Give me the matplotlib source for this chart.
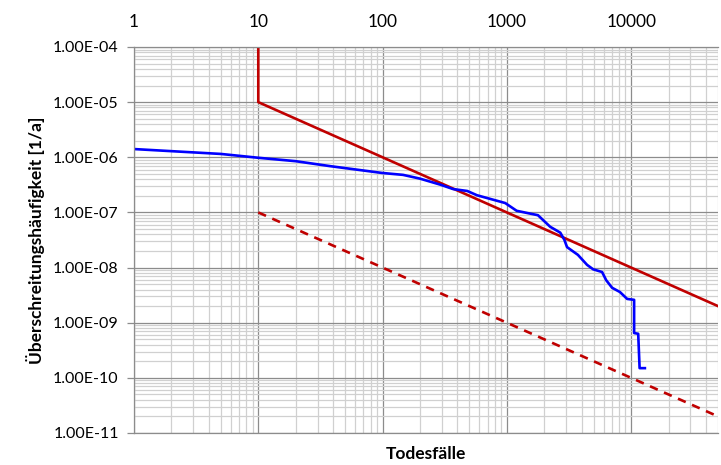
import numpy as np
import matplotlib.pyplot as plt
from matplotlib.ticker import LogLocator, NullFormatter, FuncFormatter

# Daten
blue_x = [1, 5, 10, 20, 38, 99, 146, 200, 290, 370, 480, 575, 970, 1200,
          1780, 2230, 2690, 2900, 3050, 3730, 4420, 4950, 5840, 6300, 7030,
          8130, 9290, 10570, 10570, 11400, 11700, 12900]
blue_y = [1.41e-6, 1.15e-6, 9.8e-7, 8.5e-7, 6.9e-7, 5.2e-7, 4.8e-7, 4.1e-7,
          3.2e-7, 2.65e-7, 2.45e-7, 2.05e-7, 1.48e-7, 1.07e-7, 8.9e-8, 5.5e-8,
          4.3e-8, 3.2e-8, 2.35e-8, 1.7e-8, 1.12e-8, 9.3e-9, 8.3e-9, 5.9e-9,
          4.3e-9, 3.6e-9, 2.7e-9, 2.6e-9, 6.5e-10, 6.3e-10, 1.5e-10, 1.5e-10]

red_x = [10, 10, 50000]
red_y = [1e-4, 1e-5, 2e-9]

dash_x = [10, 50000]
dash_y = [1e-7, 2e-11]

x_ticks = [1, 10, 100, 1000, 10000]
y_ticks = [1e-11, 1e-10, 1e-9, 1e-8, 1e-7, 1e-6, 1e-5, 1e-4]

plt.rcParams['font.family'] = ['Lato', 'DejaVu Sans']

fig = plt.figure(figsize=(7.21, 4.65), dpi=100)
ax = fig.add_axes([134 / 721, 1 - 433 / 465, (718 - 134) / 721, (433 - 47) / 465])

ax.set_xscale('log')
ax.set_yscale('log')
ax.set_xlim(1, 50000)
ax.set_ylim(1e-11, 1e-4)

# Gitter
ax.xaxis.set_major_locator(LogLocator(base=10, numticks=20))
ax.xaxis.set_minor_locator(LogLocator(base=10, subs=range(2, 10), numticks=20))
ax.yaxis.set_major_locator(LogLocator(base=10, numticks=20))
ax.yaxis.set_minor_locator(LogLocator(base=10, subs=range(2, 10), numticks=20))
ax.xaxis.set_minor_formatter(NullFormatter())
ax.yaxis.set_minor_formatter(NullFormatter())
ax.grid(True, which='minor', color='#d0d0d0', lw=0.9)
ax.grid(True, which='major', color='#8c8c8c', lw=0.9)
ax.set_axisbelow(True)

ax.plot(dash_x, dash_y, color='#c00000', lw=1.9, dashes=(3.2, 2.6))
ax.plot(red_x, red_y, color='#c00000', lw=1.9)
ax.plot(blue_x, blue_y, color='#0000ff', lw=1.9)

# Achsen
ax.xaxis.tick_top()
ax.set_xticks(x_ticks)
ax.set_xticklabels([str(t) for t in x_ticks])
ax.tick_params(axis='x', which='both', length=0, pad=12, labelsize=12.5)
ax.set_yticks(y_ticks)
ax.yaxis.set_major_formatter(FuncFormatter(lambda v, p: f"{v:.2E}"))
ax.tick_params(axis='y', which='major', length=5, width=0.9, color='#8c8c8c',
               direction='out', pad=6, labelsize=11.5)
ax.tick_params(axis='y', which='minor', length=0)

for s in ax.spines.values():
    s.set_color('#8c8c8c')
    s.set_linewidth(0.9)
ax.spines['right'].set_visible(False)

ax.xaxis.set_label_position('bottom')
ax.set_xlabel('Todesfälle', fontsize=12.5, fontweight='bold', labelpad=9)
ax.set_ylabel('Überschreitungshäufigkeit [1/a]', fontsize=12.5, fontweight='bold', labelpad=6)

fig.savefig('out.png', dpi=100)
